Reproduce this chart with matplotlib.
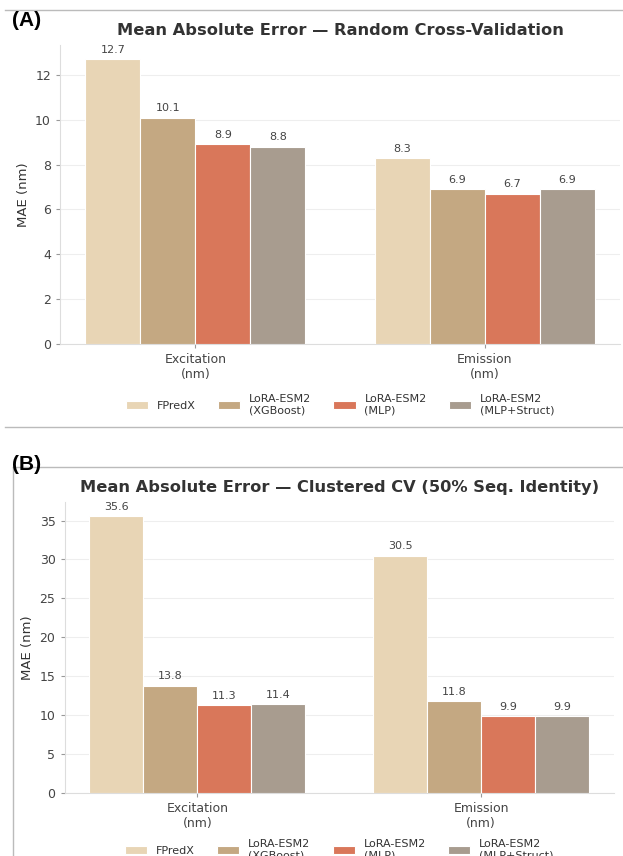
"""Recreate the two-panel MAE bar chart (random CV and clustered CV)."""

from __future__ import annotations

import matplotlib
import numpy as np
from matplotlib.lines import Line2D

matplotlib.use("Agg")
import matplotlib.pyplot as plt

TITLE_SIZE = 11.7
LABEL_SIZE = 9.5
TICK_SIZE = 9
ANNOTATION_SIZE = 8
LEGEND_SIZE = 8
DPI = 100

TARGETS = ["Excitation\n(nm)", "Emission\n(nm)"]
MODELS = [
    "FPredX",
    "LoRA-ESM2\n(XGBoost)",
    "LoRA-ESM2\n(MLP)",
    "LoRA-ESM2\n(MLP+Struct)",
]
MODEL_COLORS = ["#E8D5B5", "#C4A882", "#D9775A", "#A89C8F"]

# rows = models, columns = targets
RANDOM_CV_MAE = [
    [12.7, 8.3],
    [10.1, 6.9],
    [8.9, 6.7],
    [8.8, 6.9],
]
CLUSTERED_CV_MAE = [
    [35.6, 30.5],
    [13.8, 11.8],
    [11.3, 9.9],
    [11.4, 9.9],
]

FW, FH = 623, 856


def _px(x0: float, y0: float, x1: float, y1: float) -> list[float]:
    """Pixel box (top-left origin) -> figure axes rect."""
    return [x0 / FW, 1 - y1 / FH, (x1 - x0) / FW, (y1 - y0) / FH]


def _draw_panel(fig, rect, values, title, yticks, legend_y) -> None:
    ax = fig.add_axes(rect)
    data = np.array(values, dtype=float)
    x = np.arange(len(TARGETS))
    width = 0.19
    for i, (model, color) in enumerate(zip(MODELS, MODEL_COLORS)):
        offset = (i - (len(MODELS) - 1) / 2) * width
        bars = ax.bar(
            x + offset,
            data[i],
            width,
            color=color,
            edgecolor="white",
            linewidth=0.8,
            label=model,
            zorder=3,
        )
        for bar, val in zip(bars, data[i]):
            ax.text(
                bar.get_x() + bar.get_width() / 2,
                val + data.max() * 0.015,
                f"{val:.1f}",
                ha="center",
                va="bottom",
                fontsize=ANNOTATION_SIZE,
                color="#444444",
            )

    ax.set_ylim(0, data.max() * 1.05)
    ax.set_yticks(yticks)
    ax.set_xticks(x, labels=TARGETS)
    ax.set_title(title, fontsize=TITLE_SIZE, fontweight="bold", color="#333333", pad=7)
    ax.set_ylabel("MAE (nm)", fontsize=LABEL_SIZE, color="#333333")
    ax.tick_params(axis="both", labelsize=TICK_SIZE, colors="#444444",
                   length=3, width=0.8)
    ax.tick_params(axis="both", color="#999999")
    ax.grid(axis="y", color="#eeeeee", linewidth=0.8, zorder=0)
    ax.set_axisbelow(True)
    for side in ("top", "right"):
        ax.spines[side].set_visible(False)
    for side in ("left", "bottom"):
        ax.spines[side].set_color("#dddddd")
        ax.spines[side].set_linewidth(0.8)

    center = rect[0] + rect[2] / 2
    fig.legend(
        *ax.get_legend_handles_labels(),
        loc="center",
        bbox_to_anchor=(center, legend_y),
        ncol=4,
        frameon=False,
        fontsize=LEGEND_SIZE,
        columnspacing=2.0,
        labelcolor="#333333",
    )


def main() -> None:
    fig = plt.figure(figsize=(FW / DPI, FH / DPI), dpi=DPI)

    _draw_panel(
        fig,
        _px(60, 45, 620, 344),
        RANDOM_CV_MAE,
        "Mean Absolute Error — Random Cross-Validation",
        np.arange(0, 13, 2),
        1 - 405 / FH,
    )
    _draw_panel(
        fig,
        _px(64.5, 502, 614, 793),
        CLUSTERED_CV_MAE,
        "Mean Absolute Error — Clustered CV (50% Seq. Identity)",
        np.arange(0, 36, 5),
        1 - 850 / FH,
    )

    # screenshot frame lines
    frame = dict(color="#bbbbbb", linewidth=1.0, transform=fig.transFigure)
    fig.add_artist(Line2D([5 / FW, 1], [1 - 10 / FH] * 2, **frame))
    fig.add_artist(Line2D([5 / FW, 1], [1 - 427 / FH] * 2, **frame))
    fig.add_artist(Line2D([13 / FW, 1], [1 - 467 / FH] * 2, **frame))
    fig.add_artist(Line2D([13 / FW] * 2, [0, 1 - 467 / FH], **frame))

    panel_font = dict(fontsize=15, fontweight="bold", family="Liberation Sans",
                      color="black", va="center", ha="left")
    fig.text(12 / FW, 1 - 20 / FH, "(A)", **panel_font)
    fig.text(12 / FW, 1 - 465 / FH, "(B)", **panel_font)

    fig.savefig("out.png", dpi=DPI)
    plt.close(fig)


if __name__ == "__main__":
    main()
